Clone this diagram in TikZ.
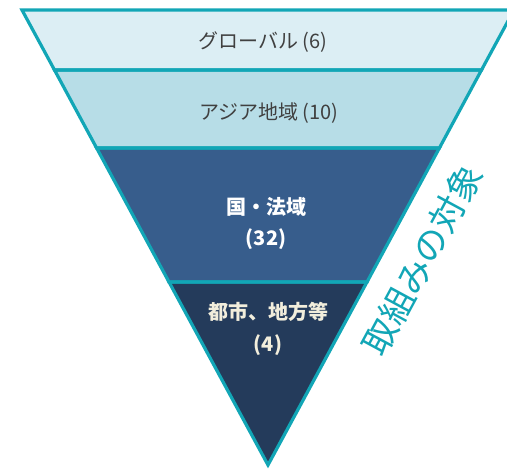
\documentclass[tikz,border=0pt]{standalone}
\usepackage{fontspec}
\setmainfont{Noto Sans CJK JP}
\definecolor{edge}{HTML}{12A6B6}
\definecolor{bandA}{HTML}{DCEEF4}
\definecolor{bandB}{HTML}{B7DDE7}
\definecolor{bandC}{HTML}{375D8C}
\definecolor{bandD}{HTML}{243B5B}
\definecolor{darktext}{HTML}{404040}
\definecolor{lighttext}{HTML}{F2EEDC}
\begin{document}
\begin{tikzpicture}[x=1pt,y=-1pt,
  band/.style={draw=edge,line width=3.2pt,line join=miter},
  lbl/.style={font=\fontsize{20}{24}\selectfont,text=darktext,inner sep=0pt},
  wlbl/.style={font=\bfseries\fontsize{20}{31}\selectfont,text=white,align=center,inner sep=0pt}]
\useasboundingbox (0,0) rectangle (507,471);
\clip (0,0) rectangle (507,471);
\coordinate (tl) at (22,10);
\coordinate (tr) at (514,10);
\coordinate (apex) at (268,465);
\coordinate (l1) at (54.5,70);  \coordinate (r1) at (481.5,70);
\coordinate (l2) at (96.6,148); \coordinate (r2) at (439.4,148);
\coordinate (l3) at (169,282);  \coordinate (r3) at (367,282);
\fill[bandA] (tl) -- (tr) -- (r1) -- (l1) -- cycle;
\fill[bandB] (l1) -- (r1) -- (r2) -- (l2) -- cycle;
\fill[bandC] (l2) -- (r2) -- (r3) -- (l3) -- cycle;
\fill[bandD] (l3) -- (r3) -- (apex) -- cycle;
\draw[band] (tl) -- (tr) -- (r1) -- (l1) -- cycle;
\draw[band] (l1) -- (r1) -- (r2) -- (l2) -- cycle;
\draw[band] (l2) -- (r2) -- (r3) -- (l3) -- cycle;
\draw[band] (l3) -- (r3) -- (apex) -- cycle;
\node[lbl] (g) at (263,42) {グローバル (6)};
\node[lbl] (a) at (269,113) {アジア地域 (10)};
\node[wlbl] (c) at (266,223) {国・法域\\(32)};
\node[wlbl,text=lighttext,font=\bfseries\fontsize{20}{32}\selectfont] (d) at (268,329) {都市、地方等\\(4)};
\node[text=edge,font=\fontsize{35}{40}\selectfont,rotate=61.6,inner sep=0pt] (t) at (422,260) {取組みの対象};
\end{tikzpicture}
\end{document}
